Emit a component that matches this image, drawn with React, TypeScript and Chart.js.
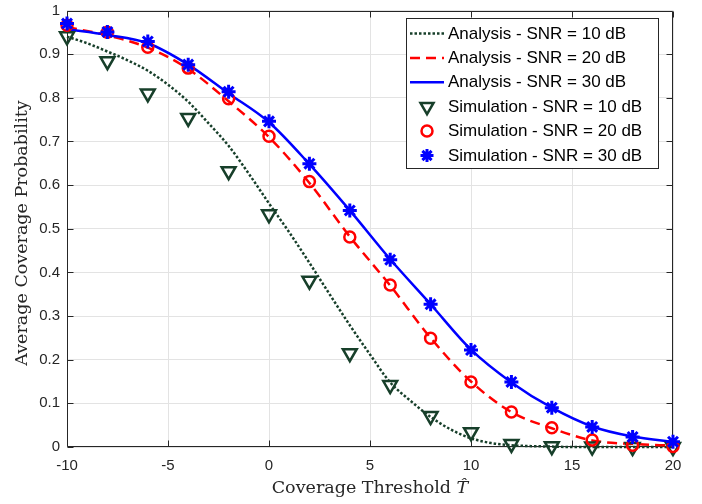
import React, { useEffect, useRef } from 'react';
import { Chart, registerables } from 'chart.js';

Chart.register(...registerables);

// ---------- data ----------
const simX = [-10, -8, -6, -4, -2, 0, 2, 4, 6, 8, 10, 12, 14, 16, 18, 20];
const sim10 = [0.941, 0.884, 0.81, 0.754, 0.632, 0.533, 0.381, 0.215, 0.142, 0.071, 0.034, 0.007, 0.002, 0.001, 0.0, 0.0];
const sim20 = [0.966, 0.95, 0.916, 0.868, 0.798, 0.712, 0.608, 0.481, 0.371, 0.249, 0.149, 0.08, 0.044, 0.016, 0.004, 0.001];
const sim30 = [0.97, 0.951, 0.929, 0.876, 0.814, 0.746, 0.649, 0.542, 0.429, 0.327, 0.222, 0.149, 0.09, 0.046, 0.023, 0.012];

const ana10X = [-10, -9, -8, -7, -6, -5, -4, -3, -2, -1, 0, 1, 2, 3, 4, 5, 6, 7, 8, 9, 10, 11, 12, 13, 14, 15, 16, 17, 18, 19, 20];
const ana10 = [0.94, 0.925, 0.906, 0.886, 0.862, 0.83, 0.791, 0.742, 0.69, 0.626, 0.558, 0.492, 0.422, 0.35, 0.279, 0.212, 0.148, 0.106, 0.069, 0.04, 0.02, 0.009, 0.004, 0.002, 0.001, 0.0, 0.0, 0.0, 0.0, 0.0, 0.0];
const anaX = [-10, -8, -6, -4, -2, 0, 2, 4, 6, 8, 10, 12, 14, 16, 18, 20];
const ana20 = [0.962, 0.943, 0.915, 0.866, 0.792, 0.71, 0.605, 0.482, 0.37, 0.25, 0.15, 0.08, 0.043, 0.015, 0.007, 0.003];
const ana30 = [0.957, 0.944, 0.925, 0.876, 0.81, 0.744, 0.648, 0.542, 0.43, 0.327, 0.223, 0.148, 0.09, 0.047, 0.024, 0.012];

const xTicks = [-10, -5, 0, 5, 10, 15, 20];
const xTickLabels = ['-10', '-5', '0', '5', '10', '15', '20'];
const yTicks = [0, 0.1, 0.2, 0.3, 0.4, 0.5, 0.6, 0.7, 0.8, 0.9, 1];
const yTickLabels = ['0', '0.1', '0.2', '0.3', '0.4', '0.5', '0.6', '0.7', '0.8', '0.9', '1'];

const legendLabels = [
  'Analysis - SNR = 10 dB',
  'Analysis - SNR = 20 dB',
  'Analysis - SNR = 30 dB',
  'Simulation - SNR = 10 dB',
  'Simulation - SNR = 20 dB',
  'Simulation - SNR = 30 dB',
];
const xTitle = 'Coverage Threshold ';
const xTitleVar = 'T\u0302';
const yTitle = 'Average Coverage Probability';

// ---------- styles ----------
const GREEN = '#173f2a';
const RED = '#ff0000';
const BLUE = '#0000ff';
const AXIS = '#262626';
const GRID = '#e3e3e3';
const DOT = [2.5, 2];
const DASH = [10, 6];
const LW = 2.5;

const pts = (xs: number[], ys: number[]) => xs.map((x, i) => ({ x, y: ys[i] }));

function drawMarker(ctx: CanvasRenderingContext2D, style: string, x: number, y: number, r: number, color: string, lw: number) {
  ctx.save();
  ctx.strokeStyle = color;
  ctx.lineWidth = lw;
  ctx.beginPath();
  if (style === 'triangle') {
    let rad = Math.PI;
    ctx.moveTo(x + Math.sin(rad) * r, y - Math.cos(rad) * r);
    rad += (2 * Math.PI) / 3;
    ctx.lineTo(x + Math.sin(rad) * r, y - Math.cos(rad) * r);
    rad += (2 * Math.PI) / 3;
    ctx.lineTo(x + Math.sin(rad) * r, y - Math.cos(rad) * r);
    ctx.closePath();
  } else if (style === 'circle') {
    ctx.arc(x, y, r, 0, Math.PI * 2);
  } else {
    ctx.moveTo(x - r, y); ctx.lineTo(x + r, y);
    ctx.moveTo(x, y - r); ctx.lineTo(x, y + r);
    const d = Math.cos(Math.PI / 4) * r;
    ctx.moveTo(x - d, y - d); ctx.lineTo(x + d, y + d);
    ctx.moveTo(x - d, y + d); ctx.lineTo(x + d, y - d);
  }
  ctx.stroke();
  ctx.restore();
}

const framePlugin = {
  id: 'frame',
  beforeDatasetsDraw(chart: any) {
    const { ctx, chartArea: a, scales } = chart;
    const x0 = Math.round(a.left) + 0.5;
    const x1 = Math.round(a.right) - 0.5;
    const y0 = Math.round(a.top) + 0.5;
    const y1 = Math.round(a.bottom) - 0.5;
    ctx.save();
    ctx.strokeStyle = AXIS;
    ctx.lineWidth = 1;
    ctx.beginPath();
    ctx.rect(x0, y0, x1 - x0, y1 - y0);
    const tl = 6;
    xTicks.forEach((v) => {
      const px = Math.round(scales.x.getPixelForValue(v)) + 0.5;
      ctx.moveTo(px, y1); ctx.lineTo(px, y1 - tl);
      ctx.moveTo(px, y0); ctx.lineTo(px, y0 + tl);
    });
    yTicks.forEach((v) => {
      const py = Math.round(scales.y.getPixelForValue(v)) + 0.5;
      ctx.moveTo(x0, py); ctx.lineTo(x0 + tl, py);
      ctx.moveTo(x1, py); ctx.lineTo(x1 - tl, py);
    });
    ctx.stroke();
    ctx.restore();
  },
  afterDraw(chart: any) {
    const { ctx, chartArea: a } = chart;
    ctx.save();
    // axis titles
    ctx.fillStyle = AXIS;
    ctx.textBaseline = 'alphabetic';
    const nf = '17.5px "DejaVu Serif"';
    const itf = 'italic 17.5px "DejaVu Serif"';
    ctx.font = nf;
    const w1 = ctx.measureText(xTitle).width;
    ctx.font = itf;
    const w2 = ctx.measureText(xTitleVar).width;
    const cx = (a.left + a.right) / 2;
    const sx = cx - (w1 + w2) / 2;
    ctx.font = nf;
    ctx.textAlign = 'left';
    ctx.fillText(xTitle, sx, 493);
    ctx.font = itf;
    ctx.fillText(xTitleVar, sx + w1, 493);

    ctx.save();
    ctx.translate(27, 233);
    ctx.rotate(-Math.PI / 2);
    ctx.font = nf;
    ctx.textAlign = 'center';
    ctx.fillText(yTitle, 0, 0);
    ctx.restore();

    // legend
    const bx0 = 406.5, bx1 = 658.5, by0 = 18.5, by1 = 168.5;
    ctx.fillStyle = '#ffffff';
    ctx.fillRect(bx0, by0, bx1 - bx0, by1 - by0);
    ctx.strokeStyle = AXIS;
    ctx.lineWidth = 1;
    ctx.strokeRect(bx0, by0, bx1 - bx0, by1 - by0);
    const rowY0 = 33.5;
    const rowStep = 24.4;
    const colors = [GREEN, RED, BLUE, GREEN, RED, BLUE];
    const dashes = [DOT, DASH, []];
    const markers = ['triangle', 'circle', 'star'];
    const mr = [7.5, 5.5, 6.5];
    legendLabels.forEach((lab, i) => {
      const yy = rowY0 + i * rowStep;
      if (i < 3) {
        ctx.save();
        ctx.strokeStyle = colors[i];
        ctx.lineWidth = LW;
        ctx.setLineDash(dashes[i]);
        ctx.beginPath();
        ctx.moveTo(410, yy);
        ctx.lineTo(444, yy);
        ctx.stroke();
        ctx.restore();
      } else {
        drawMarker(ctx, markers[i - 3], 427, yy, mr[i - 3], colors[i], i === 5 ? 3 : 2.5);
      }
      ctx.fillStyle = '#000000';
      ctx.font = '17px "Liberation Sans"';
      ctx.textAlign = 'left';
      ctx.textBaseline = 'middle';
      ctx.fillText(lab, 448, yy + 0.5);
    });
    ctx.restore();
  },
};

export default function App() {
  const ref = useRef<HTMLCanvasElement | null>(null);
  useEffect(() => {
    document.body.style.margin = '0';
    const canvas = ref.current;
    if (!canvas) return;
    const lineBase = { showLine: true, pointRadius: 0, borderWidth: LW, cubicInterpolationMode: 'monotone', clip: false, fill: false };
    const markBase = { showLine: false, backgroundColor: 'transparent', pointBackgroundColor: 'transparent', clip: false };
    const chart = new Chart(canvas, {
      type: 'scatter',
      data: {
        datasets: [
          { ...lineBase, label: legendLabels[0], data: pts(ana10X, ana10), borderColor: GREEN, borderDash: DOT, order: 5 },
          { ...lineBase, label: legendLabels[1], data: pts(anaX, ana20), borderColor: RED, borderDash: DASH, order: 4 },
          { ...lineBase, label: legendLabels[2], data: pts(anaX, ana30), borderColor: BLUE, order: 3 },
          { ...markBase, label: legendLabels[3], data: pts(simX, sim10), pointStyle: 'triangle', pointRotation: 180, pointRadius: 8, pointBorderWidth: 2.5, pointBorderColor: GREEN, borderColor: GREEN, order: 2 },
          { ...markBase, label: legendLabels[4], data: pts(simX, sim20), pointStyle: 'circle', pointRadius: 5.5, pointBorderWidth: 2.5, pointBorderColor: RED, borderColor: RED, order: 1 },
          { ...markBase, label: legendLabels[5], data: pts(simX, sim30), pointStyle: 'star', pointRadius: 7, pointBorderWidth: 3, pointBorderColor: BLUE, borderColor: BLUE, order: 0 },
        ] as any,
      },
      options: {
        animation: false,
        responsive: false,
        devicePixelRatio: 1,
        layout: { padding: { left: 0, right: 29, top: 4, bottom: 0 } },
        plugins: { legend: { display: false }, tooltip: { enabled: false } },
        events: [],
        scales: {
          x: {
            type: 'linear',
            min: -10,
            max: 20,
            afterBuildTicks: (s: any) => { s.ticks = xTicks.map((v) => ({ value: v })); },
            afterFit: (s: any) => { s.height = 57; s.paddingLeft = 0; s.paddingRight = 0; },
            ticks: {
              callback: (_v: any, i: number) => xTickLabels[i],
              color: AXIS,
              font: { family: '"Liberation Sans"', size: 15 },
              padding: 10,
              maxRotation: 0,
              autoSkip: false,
            },
            grid: { color: GRID, lineWidth: 1, drawTicks: false },
            border: { display: false },
          },
          y: {
            type: 'linear',
            min: 0,
            max: 1,
            afterBuildTicks: (s: any) => { s.ticks = yTicks.map((v) => ({ value: v })); },
            afterFit: (s: any) => { s.width = 67; s.paddingTop = 0; s.paddingBottom = 0; },
            ticks: {
              callback: (_v: any, i: number) => yTickLabels[i],
              color: AXIS,
              font: { family: '"Liberation Sans"', size: 15 },
              padding: 7,
              autoSkip: false,
            },
            grid: { color: GRID, lineWidth: 1, drawTicks: false },
            border: { display: false },
          },
        },
      } as any,
      plugins: [framePlugin],
    });
    return () => chart.destroy();
  }, []);
  return (
    <div style={{ width: 702, height: 504 }}>
      <canvas ref={ref} width={702} height={504} style={{ display: 'block' }} />
    </div>
  );
}
